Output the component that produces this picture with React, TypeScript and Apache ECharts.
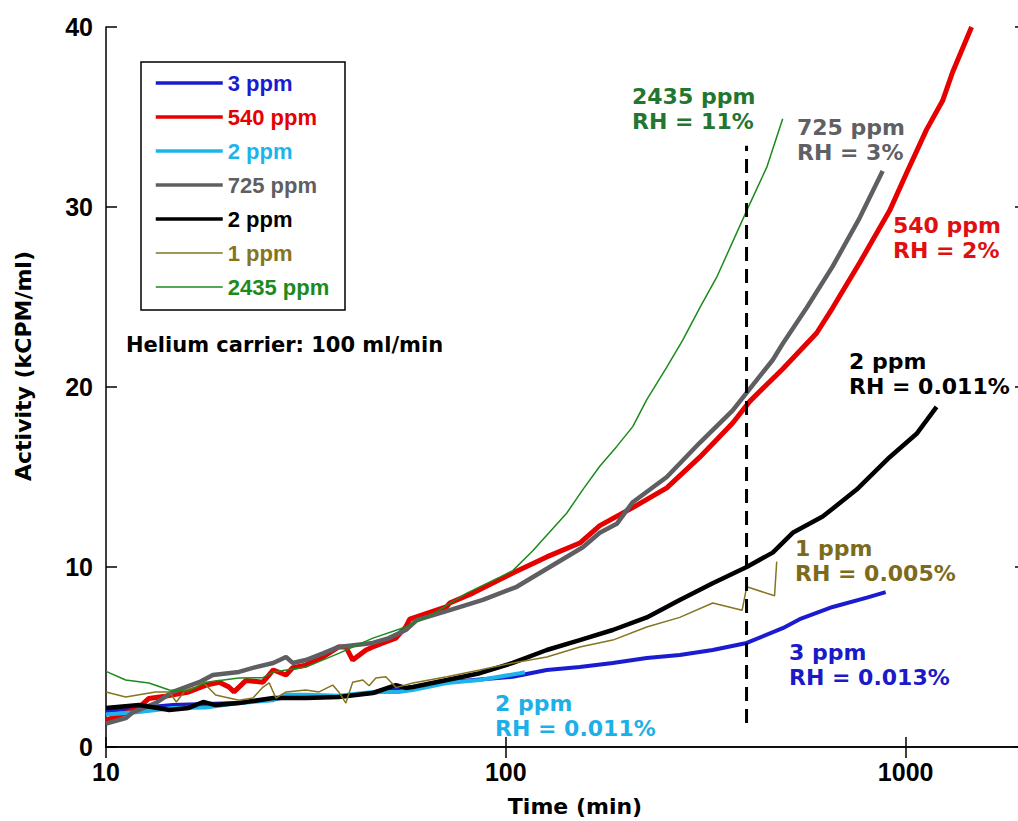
import React, { useEffect, useRef } from "react";
import * as echarts from "echarts";

// ---- data: [time (min), activity (kCPM/ml)] ----
const blue3ppm: [number, number][] = [
  [10, 2.0], [14.7, 2.33], [21.5, 2.45], [28.2, 2.75], [38.2, 2.8], [50.1, 3.1], [71.2, 3.6],
  [86.1, 3.75], [104.1, 3.9], [126.6, 4.28], [153.1, 4.44], [185.1, 4.67], [225.2, 4.94],
  [272.3, 5.11], [329.2, 5.39], [400.4, 5.78], [492.6, 6.6], [543.3, 7.1], [656.9, 7.78],
  [800, 8.3], [891.3, 8.6],
];
const red540ppm: [number, number][] = [
  [10, 1.5], [10.6, 1.67], [12.1, 2.2], [12.8, 2.7], [13.9, 2.8], [16.1, 3.06], [17.8, 3.44],
  [19.2, 3.6], [20.3, 3.33], [20.9, 3.06], [22.4, 3.7], [24.7, 3.6], [26.2, 4.28], [28.2, 4.0],
  [29.3, 4.4], [31.6, 4.55], [34.9, 5.0], [38.2, 5.56], [39.8, 5.56], [41.4, 4.83], [44.7, 5.39],
  [46.5, 5.56], [49.3, 5.78], [53.1, 6.05], [56.2, 6.67], [57.5, 7.1], [71.2, 7.8], [72.4, 8.0],
  [82.7, 8.55], [96.6, 9.3], [104.1, 9.67], [126.6, 10.56], [153.1, 11.33], [171.8, 12.3],
  [207.7, 13.3], [252.7, 14.4], [305.5, 16.1], [369.4, 18.0], [407.4, 19.2], [492.6, 21.0],
  [599.1, 23.0], [656.9, 24.4], [767.4, 26.9], [912, 29.8], [1006, 31.9], [1128, 34.3],
  [1237, 35.9], [1311, 37.5], [1462, 40],
];
const lightBlue2ppm: [number, number][] = [
  [10, 1.8], [12.1, 1.94], [14.7, 2.17], [17.8, 2.2], [21.5, 2.44], [26.2, 2.6], [28.2, 2.9],
  [31.6, 2.9], [38.2, 2.85], [46.5, 3.06], [54, 3.06], [58.5, 3.17], [71.2, 3.56], [86.1, 3.72],
  [108.4, 4.1], [111.6, 4.15],
];
const gray725ppm: [number, number][] = [
  [10, 1.3], [11.2, 1.6], [11.7, 1.94], [13.3, 2.44], [14.7, 3.06], [17.1, 3.6], [18.5, 4.0],
  [21.5, 4.17], [23.7, 4.44], [26.2, 4.67], [28.2, 5.0], [29.3, 4.67], [31.6, 4.83], [34.9, 5.2],
  [38.2, 5.56], [46.5, 5.78], [51.0, 6.05], [56.2, 6.5], [59.9, 7.05], [72.4, 7.6], [87.6, 8.17],
  [106.5, 8.9], [128.8, 10.0], [155.8, 11.1], [171.8, 11.9], [189.5, 12.4], [207.7, 13.6],
  [252.7, 15.0], [305.5, 16.9], [369.4, 18.7], [407.4, 19.9], [465.1, 21.5], [492.6, 22.4],
  [565.6, 24.4], [656.9, 26.7], [767.4, 29.4], [876, 32.0],
];
const black2ppm: [number, number][] = [
  [10, 2.17], [12.1, 2.33], [14.4, 2.06], [16.1, 2.17], [17.5, 2.5], [18.8, 2.33], [21.5, 2.44],
  [26.2, 2.72], [31.6, 2.72], [38.2, 2.78], [46.5, 3.0], [53.1, 3.44], [56.2, 3.28], [58.5, 3.33],
  [71.2, 3.72], [86.1, 4.1], [104.1, 4.67], [126.6, 5.39], [153.1, 5.94], [185.1, 6.5],
  [225.2, 7.2], [272.3, 8.17], [329.2, 9.1], [400.4, 10.0], [465.1, 10.8], [521.8, 11.9],
  [620.2, 12.8], [754.2, 14.3], [912, 16.1], [1065, 17.4], [1195, 18.9],
];
const olive1ppm: [number, number][] = [
  [10, 3.06], [11.2, 2.78], [13.3, 3.06], [14.4, 3.06], [15.0, 2.5], [15.8, 3.17], [16.8, 3.33],
  [17.5, 3.6], [18.8, 2.89], [21.5, 2.6], [23.3, 2.72], [24.7, 3.33], [25.6, 3.56], [26.6, 2.72],
  [28.2, 3.06], [31.6, 3.17], [34.1, 3.06], [36.9, 3.44], [38.2, 3.06], [39.8, 2.44], [41.4, 3.6],
  [43.9, 3.72], [45.5, 3.4], [47.3, 3.83], [50.1, 3.9], [53.1, 3.3], [58.5, 3.56], [71.2, 3.9],
  [86.1, 4.28], [104.1, 4.67], [126.6, 5.0], [153.1, 5.56], [185.1, 5.94], [225.2, 6.67],
  [272.3, 7.2], [329.2, 8.0], [390, 7.6], [400.4, 8.9], [470, 8.4], [475.9, 10.3],
];
const green2435ppm: [number, number][] = [
  [10, 4.2], [11.2, 3.72], [12.8, 3.56], [14.4, 3.17], [16.1, 3.1], [17.8, 3.6], [21.5, 3.83],
  [24.7, 3.85], [26.2, 4.17], [31.6, 4.44], [38.2, 5.2], [46.5, 6.05], [56.2, 6.67], [63.5, 7.2],
  [79.9, 8.55], [96.6, 9.44], [104.1, 9.8], [116.8, 10.9], [142.1, 13.0], [155.8, 14.3],
  [171.8, 15.6], [189.5, 16.7], [207.7, 17.8], [225.2, 19.3], [252.7, 21.1], [277, 22.6],
  [305.5, 24.4], [336.9, 26.1], [400.4, 29.8], [449.3, 32.2], [492.6, 34.9],
];
const dashedMarker: [number, number][] = [[400, 1.33], [400, 33.4]];

const seriesKeys = ["s3", "s540", "s2a", "s725", "s2b", "s1", "s2435"];
const legendLabels = ["3 ppm", "540 ppm", "2 ppm", "725 ppm", "2 ppm", "1 ppm", "2435 ppm"];
const seriesData = [blue3ppm, red540ppm, lightBlue2ppm, gray725ppm, black2ppm, olive1ppm, green2435ppm];
const seriesColors = ["#1b1bcf", "#e60000", "#1db4ec", "#5f5f63", "#000000", "#857420", "#1c8a1c"];
const seriesWidths = [4, 5, 4, 4.5, 4.5, 1.5, 1.5];
const legendWidths = [3.5, 3.5, 3.5, 3.5, 3.5, 1.5, 1.5];

const xTicks = [10, 100, 1000];
const yTicks = [0, 10, 20, 30, 40];

const annotations = [
  { lines: ["2435 ppm", "RH = 11%"], color: "#23762f", x: 632, y: 109 },
  { lines: ["725 ppm", "RH = 3%"], color: "#606064", x: 797, y: 140 },
  { lines: ["540 ppm", "RH = 2%"], color: "#e01010", x: 893, y: 238 },
  { lines: ["2 ppm", "RH = 0.011%"], color: "#000000", x: 849, y: 374 },
  { lines: ["1 ppm", "RH = 0.005%"], color: "#7d6b1d", x: 795, y: 561 },
  { lines: ["3 ppm", "RH = 0.013%"], color: "#1a1ac8", x: 789, y: 665 },
  { lines: ["2 ppm", "RH = 0.011%"], color: "#1db0e8", x: 495, y: 716 },
];

const TICK_FONT = '"Liberation Sans", Arial, Helvetica, sans-serif';
const NOTE_FONT = '"DejaVu Sans", "Liberation Sans", sans-serif';

const CHART_W = 1034;
const CHART_H = 821;

export default function App() {
  const ref = useRef<HTMLDivElement>(null);
  useEffect(() => {
    if (!ref.current) return;
    const chart = echarts.init(ref.current, undefined, { renderer: "svg" });
    const isPow10 = (v: number) => xTicks.some((t) => Math.abs(v - t) / t < 1e-6);

    const series: any[] = seriesKeys.map((key, i) => ({
      name: key,
      type: "line",
      data: seriesData[i],
      symbol: "none",
      showSymbol: false,
      silent: true,
      lineStyle: { color: seriesColors[i], width: seriesWidths[i] },
      itemStyle: { color: seriesColors[i] },
      z: 2 + i,
    }));
    series.push({
      name: "marker",
      type: "line",
      data: dashedMarker,
      symbol: "none",
      silent: true,
      lineStyle: { color: "#000", width: 3, type: [14, 8] },
      z: 20,
    });

    const graphic: any[] = [
      {
        type: "rect",
        shape: { x: 141, y: 62, width: 204, height: 248 },
        style: { fill: "#fff", stroke: "#000", lineWidth: 1.5 },
        z: 50,
      },
      {
        type: "text",
        x: 126,
        y: 345,
        style: {
          text: "Helium carrier: 100 ml/min",
          fill: "#000",
          fontFamily: NOTE_FONT,
          fontWeight: "bold",
          fontSize: 21,
          align: "left",
          verticalAlign: "middle",
        },
        z: 60,
      },
      {
        type: "text",
        x: 575,
        y: 806,
        style: {
          text: "Time (min)",
          fill: "#000",
          fontFamily: NOTE_FONT,
          fontWeight: "bold",
          fontSize: 22,
          align: "center",
          verticalAlign: "middle",
        },
      },
      {
        type: "text",
        x: 23,
        y: 366,
        rotation: Math.PI / 2,
        style: {
          text: "Activity (kCPM/ml)",
          fill: "#000",
          fontFamily: NOTE_FONT,
          fontWeight: "bold",
          fontSize: 22,
          align: "center",
          verticalAlign: "middle",
        },
      },
    ];
    annotations.forEach((a) => {
      graphic.push({
        type: "text",
        x: a.x,
        y: a.y,
        style: {
          text: a.lines.join("\n"),
          fill: a.color,
          fontFamily: NOTE_FONT,
          fontWeight: "bold",
          fontSize: 22,
          lineHeight: 25.5,
          align: "left",
          verticalAlign: "middle",
        },
        z: 60,
      });
    });

    const axisLine = { show: true, lineStyle: { color: "#000", width: 1.5 } };
    chart.setOption({
      animation: false,
      backgroundColor: "#fff",
      grid: { left: 106, top: 27, right: CHART_W - 1026, bottom: CHART_H - 747, containLabel: false },
      xAxis: [
        {
          type: "log",
          logBase: 10,
          min: 10,
          max: 2000,
          position: "bottom",
          axisLine,
          axisTick: { show: true, inside: true, length: 10, lineStyle: { color: "#000", width: 1.5 } },
          minorTick: { show: false },
          splitLine: { show: false },
          axisLabel: {
            margin: 12,
            color: "#000",
            fontFamily: TICK_FONT,
            fontWeight: "bold",
            fontSize: 25,
            formatter: (v: number) => (isPow10(v) ? String(Math.round(v)) : ""),
          },
        },
        {
          type: "log",
          logBase: 10,
          min: 10,
          max: 2000,
          position: "top",
          axisLine,
          axisTick: { show: true, inside: true, length: 11, lineStyle: { color: "#000", width: 1.5 } },
          splitLine: { show: false },
          axisLabel: { show: false },
        },
      ],
      yAxis: [
        {
          type: "value",
          min: 0,
          max: 40,
          interval: 10,
          position: "left",
          axisLine,
          axisTick: { show: true, inside: true, length: 11, lineStyle: { color: "#000", width: 1.5 } },
          splitLine: { show: false },
          axisLabel: {
            margin: 13,
            color: "#000",
            fontFamily: TICK_FONT,
            fontWeight: "bold",
            fontSize: 25,
            formatter: (v: number) => (yTicks.includes(v) ? String(v) : ""),
          },
        },
        {
          type: "value",
          min: 0,
          max: 40,
          interval: 10,
          position: "right",
          axisLine,
          axisTick: { show: true, inside: true, length: 11, lineStyle: { color: "#000", width: 1.5 } },
          splitLine: { show: false },
          axisLabel: { show: false },
        },
      ],
      legend: {
        orient: "vertical",
        left: 154,
        top: 72,
        padding: 0,
        itemGap: 12,
        itemWidth: 67,
        itemHeight: 14,
        selectedMode: false,
        z: 70,
        itemStyle: { opacity: 0 },
        data: seriesKeys.map((k, i) => ({
          name: k,
          textStyle: { color: seriesColors[i] },
          lineStyle: { width: legendWidths[i], color: seriesColors[i] },
          itemStyle: { opacity: 0 },
        })),
        formatter: (name: string) => legendLabels[seriesKeys.indexOf(name)],
        textStyle: {
          fontFamily: TICK_FONT,
          fontWeight: "bold",
          fontSize: 22,
        },
      },
      graphic,
      series,
    });
    return () => chart.dispose();
  }, []);
  return (
    <div
      style={{
        position: "fixed",
        left: 0,
        top: 0,
        width: 1018,
        height: 821,
        overflow: "hidden",
        background: "#fff",
      }}
    >
      <div ref={ref} style={{ width: CHART_W, height: CHART_H }} />
    </div>
  );
}
